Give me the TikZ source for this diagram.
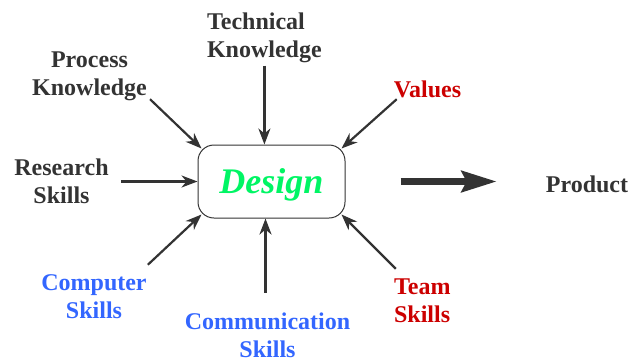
\documentclass[tikz,border=0pt]{standalone}
\usepackage{fontspec}
\setmainfont{LiberationSerif}[Extension=.ttf, UprightFont=*-Regular, BoldFont=*-Bold, ItalicFont=*-Italic, BoldItalicFont=*-BoldItalic]
\usepackage{xcolor}
\usepackage{tikz}
\usetikzlibrary{arrows.meta}

\definecolor{inkgray}{RGB}{51,51,51}
\definecolor{valred}{RGB}{204,0,0}
\definecolor{skillblue}{RGB}{51,102,255}
\definecolor{designgreen}{RGB}{0,245,100}

\begin{document}
\begin{tikzpicture}[x=1pt, y=-1pt,
        factor/.style={font=\fontsize{24}{28}\selectfont\bfseries, align=center, text=inkgray, inner sep=3pt},
        feed/.style={draw=inkgray, line width=2.2pt, -{Stealth[length=16pt, width=12pt, inset=5pt]}},
        bigfeed/.style={draw=inkgray, line width=7pt, -{Stealth[length=35pt, width=21pt, inset=5pt]}}
    ]
        \useasboundingbox (0,0) rectangle (639,362);

        % Design box
        \node[draw=inkgray, line width=1pt, rounded corners=16pt, minimum width=147pt, minimum height=73pt,
              text height=31pt, text depth=8pt, inner sep=0pt,
              font=\fontsize{36}{40}\selectfont\bfseries\itshape, text=designgreen] (design) at (271.5,181.5) {Design};

        % Factors
        \node[factor, align=left] (tech) at (264.4,37.5) {Technical\\Knowledge};
        \node[factor] (process) at (89.5,76.5) {Process\\Knowledge};
        \node[factor, text=valred] (values) at (427.5,89.5) {Values};
        \node[factor] (research) at (61.5,181.5) {Research\\Skills};
        \node[factor, text=skillblue] (computer) at (94,297) {Computer\\Skills};
        \node[factor, text=skillblue] (comm) at (267.5,335.5) {Communication\\Skills};
        \node[factor, align=left, text=valred] (team) at (422.3,301) {Team\\Skills};

        % Result
        \node[factor] (product) at (587,184.5) {Product};

        % Arrows into the box
        \draw[feed] (tech.south) -- (tech.south |- design.north);
        \draw[feed] ([yshift=5pt]process.south east) -- ([shift={(4pt,-4pt)}]design.north west);
        \draw[feed] ([shift={(6pt,2pt)}]values.south west) -- ([shift={(-4pt,-4pt)}]design.north east);
        \draw[feed] ([xshift=9pt]research.east) -- (design.west);
        \draw[feed] ([shift={(-2pt,7pt)}]computer.north east) -- ([shift={(4pt,4pt)}]design.south west);
        \draw[feed, line width=3.5pt, shorten <=17pt] ([xshift=-2pt]comm.north) -- ([xshift=-2pt]comm.north |- design.south);
        \draw[feed] ([shift={(5pt,7pt)}]team.north west) -- ([shift={(-4pt,4pt)}]design.south east);

        % Arrow out
        \draw[bigfeed] ([xshift=55pt]design.east) -- ([xshift=-46pt]design.east -| product.west);
\end{tikzpicture}
\end{document}
